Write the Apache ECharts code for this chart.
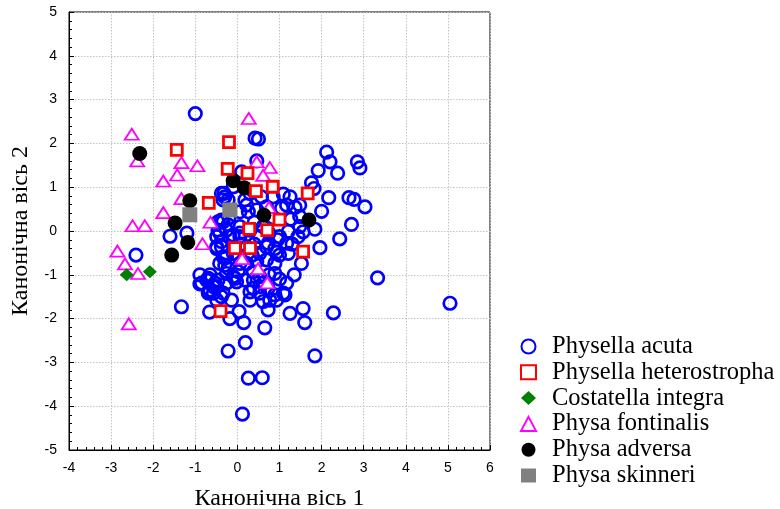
<!DOCTYPE html>
<html>
<head>
<meta charset="utf-8">
<script src="https://cdn.jsdelivr.net/npm/echarts@6/dist/echarts.min.js"></script>
<style>html,body{margin:0;padding:0;background:#fff}#c{width:780px;height:509px}</style>
</head>
<body>
<div id="c"></div>
<script>
const xTicks = [-4,-3,-2,-1,0,1,2,3,4,5,6];
const yTicks = [-5,-4,-3,-2,-1,0,1,2,3,4,5];
const seriesNames = ['Physella acuta','Physella heterostropha','Costatella integra','Physa fontinalis','Physa adversa','Physa skinneri'];

const physellaAcuta = [
[-1.0,2.68],[0.42,2.12],[0.5,2.1],
[2.12,1.8],[2.2,1.58],[1.92,1.38],[2.38,1.32],[2.85,1.58],[2.91,1.44],
[1.76,1.1],[1.82,0.97],[2.17,0.76],[2.65,0.76],[2.77,0.72],[3.03,0.55],[2.0,0.45],[2.71,0.15],[2.43,-0.18],[1.96,-0.38],[1.84,0.04],
[0.46,1.6],[0.1,1.35],[-0.1,1.01],[-0.32,0.86],[-0.22,0.71],[0.18,0.71],[0.3,0.86],[0.57,0.78],[0.46,0.48],[0.26,0.44],[0.06,0.44],[-0.46,0.21],[-0.22,0.14],[0.06,0.1],[-0.1,-0.09],[0.3,0.02],[-0.42,-0.05],[0.61,0.1],
[-1.6,-0.12],[-1.2,-0.05],[-2.41,-0.55],[-1.33,-1.73],
[1.25,0.78],[1.09,0.84],[1.17,0.59],[1.37,0.54],[1.05,0.52],[1.48,0.33],[1.48,0.59],[0.85,0.78],[0.69,0.55],[1.27,0.27],[1.56,-0.02],[1.44,-0.13],[1.48,0.1],
[1.21,-0.01],[1.0,-0.13],[1.17,-0.28],[0.89,-0.4],[0.73,-0.28],[0.53,-0.13],[0.06,-0.13],[-0.26,0.02],[-0.38,-0.36],[-0.26,-0.59],[-0.42,-0.74],[-0.65,-1.0],[-0.85,-1.19],[-0.53,-1.19],[-0.34,-1.42],[-0.1,-1.04],[0.18,-1.12],[0.38,-1.31],[0.61,-1.19],[0.89,-0.97],[0.89,-0.74],[1.17,-1.19],[1.09,-1.42],[0.77,-1.58],[0.53,-1.42],[0.3,-1.58],[0.04,-1.84],[-0.66,-1.85],[1.56,-1.77],[1.25,-1.88],[0.73,-1.8],[2.28,-1.87],
[-0.3,0.78],[0.22,0.59],[-0.38,0.25],[-0.46,0.02],[0.22,-0.36],[0.53,-0.51],[0.69,-0.66],[1.0,-0.55],[-0.1,-0.51],[0.06,-0.74],[0.38,-0.93],[-0.26,-0.97],
[1.52,-0.74],[1.21,-0.51],[0.93,-0.49],[3.33,-1.07],[5.05,-1.65],
[-0.89,-1.21],[-0.69,-1.42],[-0.49,-1.58],[-0.18,-2.0],[0.15,-2.09],[-0.22,-2.74],[0.19,-2.55],[0.65,-2.21],[1.6,-2.09],[1.84,-2.85],[0.26,-3.36],[0.59,-3.35],[0.12,-4.18],
[0.53,-1.27],[0.89,-1.46],[1.13,-1.46],[0.93,-1.58],[-0.02,-1.16],[-0.57,-1.27],
[-0.69,-1.08],[-0.49,-1.27],[-0.69,-1.39],[-0.89,-1.0],[-0.46,-1.12],[-0.26,-1.19],[-0.06,-1.08],[0.38,-1.12],[-0.22,-0.85],[0.02,-0.93],[-0.3,-0.62],[-0.49,-0.4],[-0.38,-0.24],[-0.18,-0.13],[0.06,-0.05],[0.22,-0.74],[0.46,-0.7],[0.69,-0.36],[0.3,-1.39],[0.73,-1.31],[0.61,-1.61],[-0.38,-1.5],[-0.14,-1.58],
[-0.38,0.86],[-0.34,0.71],[-0.34,0.21],[-0.49,-0.13],[-0.49,-0.36],[-0.34,-0.59],[-0.3,-0.78],[-0.73,-1.12],[-0.65,-1.35],[-0.57,-1.42],[0.53,-1.04],
[-0.2,0.3],[0.85,0.3],[0.4,0.2],[0.75,-0.05],[0.4,-0.3],[0.95,-0.2],[1.3,-0.3],[1.35,-1.0],[1.0,-1.1],[0.75,-1.0],[0.1,-0.3],[0.35,-0.55]
];
const physellaHeterostropha = [
[-1.44,1.85],[-0.2,2.03],[-0.23,1.42],[0.24,1.32],[0.44,0.91],[0.84,1.01],[1.67,0.86],[-0.68,0.64],[1.0,0.26],[0.28,0.05],[0.71,0.02],[-0.06,-0.39],[0.3,-0.39],[1.56,-0.47],[-0.4,-1.83]
];
const costatellaIntegra = [[-2.63,-1.0],[-2.08,-0.93]];
const physaFontinalis = [
[-2.51,2.21],[-2.38,1.6],[0.27,2.57],[-1.33,1.56],[-0.95,1.49],[-1.43,1.28],[-1.76,1.14],[0.46,1.58],[0.77,1.45],[0.61,1.27],[-1.33,0.74],[-1.76,0.42],[-0.64,0.2],[-2.49,0.12],[-2.2,0.12],[-0.83,-0.29],[-2.85,-0.46],[-2.67,-0.75],[-2.36,-0.97],[0.11,-0.63],[0.49,-0.86],[0.71,-1.18],[-2.58,-2.12],[0.75,0.54]
];
const physaAdversa = [
[-2.32,1.77],[-1.13,0.69],[-1.48,0.18],[-1.18,-0.26],[-1.56,-0.55],[-0.1,1.15],[0.16,0.99],[0.63,0.36],[1.7,0.25]
];
const physaSkinneri = [[-1.13,0.37],[-0.18,0.48]];

const chart = echarts.init(document.getElementById('c'));
const serif = '"Liberation Serif","Times New Roman",serif';
const sans = '"Liberation Sans",Arial,sans-serif';
const axisCommon = {
  interval: 1,
  axisLine: {onZero:false, lineStyle:{color:'#000', width:1}},
  axisTick: {inside:true, length:5, lineStyle:{color:'#000'}},
  minorTick: {show:true, splitNumber:5, length:3, lineStyle:{color:'#000'}},
  splitLine: {show:true, lineStyle:{color:'#c4c4c4', type:[1.5,1.5], width:1}},
  axisLabel: {color:'#000', fontFamily:sans, fontSize:14},
  nameLocation:'middle',
  nameTextStyle:{color:'#000', fontFamily:serif, fontSize:24}
};
chart.setOption({
  animation:false,
  grid:{left:69, right:290, top:12, bottom:59, show:true, borderColor:'#000', borderWidth:1, outerBoundsMode:'none', containLabel:false},
  xAxis: Object.assign({}, axisCommon, {type:'value', min:xTicks[0], max:xTicks[xTicks.length-1], name:'Канонічна вісь 1', nameGap:37,
    axisLabel:Object.assign({}, axisCommon.axisLabel, {margin:11})}),
  yAxis: Object.assign({}, axisCommon, {type:'value', min:yTicks[0], max:yTicks[yTicks.length-1], name:'Канонічна вісь 2', nameGap:36,
    axisLabel:Object.assign({}, axisCommon.axisLabel, {margin:12})}),
  legend:{
    orient:'vertical', left:515, top:329,
    data:seriesNames,
    itemWidth:15, itemHeight:14, itemGap:0.8,
    textStyle:{color:'#000', fontFamily:serif, fontSize:24.5, lineHeight:24.5, padding:[0,0,0,11]}
  },
  series:[
    {name:seriesNames[0], type:'scatter', data:physellaAcuta, symbol:'circle', symbolSize:12.5, z:1,
      itemStyle:{color:'rgba(255,255,255,0)', borderColor:'#0000ff', borderWidth:2.7, opacity:1}},
    {name:seriesNames[3], type:'scatter', data:physaFontinalis, symbol:'triangle', symbolSize:[14,11], z:2,
      itemStyle:{color:'#fff', borderColor:'#ff00ff', borderWidth:1.8, opacity:1}},
    {name:seriesNames[2], type:'scatter', data:costatellaIntegra, symbol:'diamond', symbolSize:[14,13], z:2,
      itemStyle:{color:'#008000', opacity:1}},
    {name:seriesNames[4], type:'scatter', data:physaAdversa, symbol:'circle', symbolSize:15, z:3,
      itemStyle:{color:'#000', opacity:1}},
    {name:seriesNames[1], type:'scatter', data:physellaHeterostropha, symbol:'rect', symbolSize:11, z:4,
      itemStyle:{color:'#fff', borderColor:'#ff0000', borderWidth:2.8, opacity:1}},
    {name:seriesNames[5], type:'scatter', data:physaSkinneri, symbol:'rect', symbolSize:15, z:5,
      itemStyle:{color:'#808080', opacity:1}}
  ]
});
</script>
</body>
</html>
